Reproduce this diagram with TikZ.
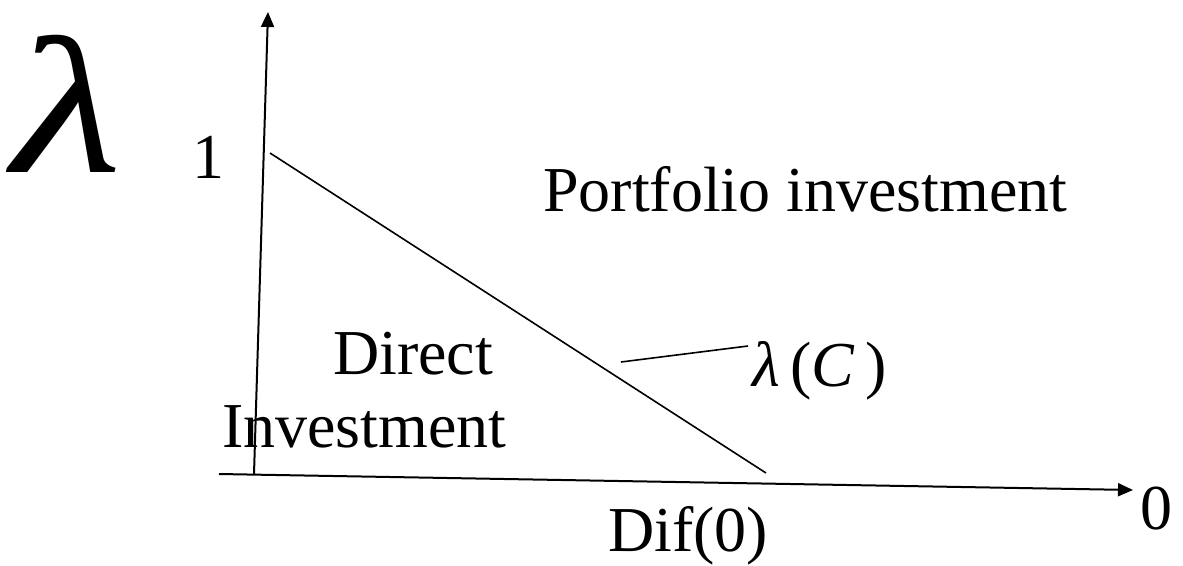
\documentclass[tikz,border=0pt]{standalone}
\usepackage{fontspec}
\setmainfont{Liberation Serif}
\usetikzlibrary{arrows.meta}
\tikzset{
  axis/.style={line width=2pt,-{Triangle[length=15pt,width=13pt]}},
  thin line/.style={line width=1.6pt},
  lbl/.style={inner sep=0pt,anchor=base west,font=\fontsize{64}{76}\selectfont}
}
\begin{document}
\begin{tikzpicture}[x=1pt,y=-1pt]
\useasboundingbox (0,0) rectangle (1183,565);
\coordinate (yo) at (254,474);
\coordinate (ytop) at (268,12);
\coordinate (xo) at (219,474);
\coordinate (xend) at (1133,490);
\coordinate (d1) at (270,153);
\coordinate (d2) at (766,473);
\coordinate (l1) at (621,362);
\coordinate (l2) at (748,346);
\draw[axis] (yo) -- (ytop);
\draw[axis] (xo) -- (xend);
\draw[thin line] (d1) -- (d2);
\draw[thin line] (l1) -- (l2);
\node[lbl,font=\fontsize{195}{210}\selectfont\itshape,xscale=1.3] (lam) at (12,172) {λ};
\node[lbl] (one) at (192,178) {1};
\node[lbl] (port) at (543,211) {Portfolio investment};
\node[lbl] (dir) at (333,374) {Direct};
\node[lbl] (inv) at (222,447) {Investment};
\node[lbl] (lc) at (752,386) {\textit{λ}\,(\textit{C}\,)};
\node[lbl] (dif) at (608,551) {Dif(0)};
\node[lbl] (zero) at (1140,529) {0};
\end{tikzpicture}
\end{document}
